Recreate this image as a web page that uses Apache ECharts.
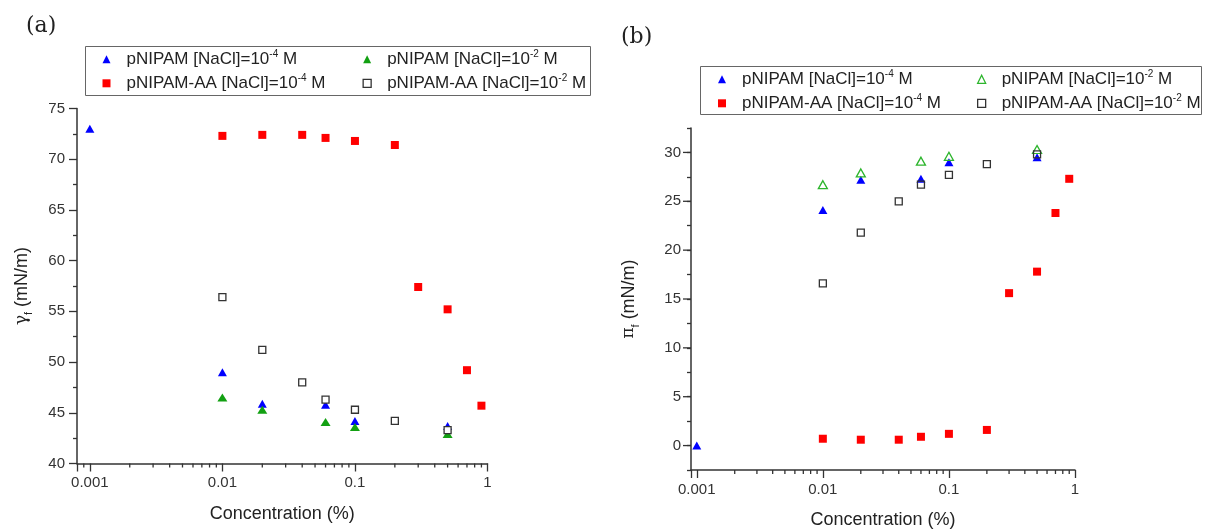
<!DOCTYPE html>
<html>
<head>
<meta charset="utf-8">
<script src="https://cdn.jsdelivr.net/npm/echarts@6/dist/echarts.min.js"></script>
<style>
html,body{margin:0;padding:0;background:#fff;}
#chart{width:1207px;height:529px;}
</style>
</head>
<body>
<div id="chart"></div>
<script>
// ---------- data ----------
const seriesNames = ['pNIPAM 1e-4', 'pNIPAM 1e-2', 'pNIPAM-AA 1e-4', 'pNIPAM-AA 1e-2'];
const legendLabels = [
  'pNIPAM [NaCl]=10{sup|-4} M',
  'pNIPAM [NaCl]=10{sup|-2} M',
  'pNIPAM-AA [NaCl]=10{sup|-4} M',
  'pNIPAM-AA [NaCl]=10{sup|-2} M'
];

// panel (a): gamma_f (mN/m)
const concA_blue  = [0.001, 0.01, 0.02, 0.06, 0.1, 0.5];
const gammaA_blue = [73.0, 49.0, 45.9, 45.8, 44.2, 43.7];
const concA_green  = [0.01, 0.02, 0.06, 0.1, 0.5];
const gammaA_green = [46.5, 45.3, 44.1, 43.6, 42.9];
const concA_red  = [0.01, 0.02, 0.04, 0.06, 0.1, 0.2, 0.3, 0.5, 0.7, 0.9];
const gammaA_red = [72.3, 72.4, 72.4, 72.1, 71.8, 71.4, 57.4, 55.2, 49.2, 45.7];
const concA_black  = [0.01, 0.02, 0.04, 0.06, 0.1, 0.2, 0.5];
const gammaA_black = [56.4, 51.2, 48.0, 46.3, 45.3, 44.2, 43.3];

// panel (b): pi_f (mN/m)
const concB_blue = [0.001, 0.01, 0.02, 0.06, 0.1, 0.5];
const piB_blue   = [0.0, 24.1, 27.2, 27.3, 29.0, 29.5];
const concB_green = [0.01, 0.02, 0.06, 0.1, 0.5];
const piB_green   = [26.7, 27.9, 29.1, 29.6, 30.3];
const concB_red = [0.01, 0.02, 0.04, 0.06, 0.1, 0.2, 0.3, 0.5, 0.7, 0.9];
const piB_red   = [0.7, 0.6, 0.6, 0.9, 1.2, 1.6, 15.6, 17.8, 23.8, 27.3];
const concB_black = [0.01, 0.02, 0.04, 0.06, 0.1, 0.2, 0.5];
const piB_black   = [16.6, 21.8, 25.0, 26.7, 27.7, 28.8, 29.8];

// axis ticks
const xTickValues = [0.001, 0.01, 0.1, 1];
const xTickLabels = ['0.001', '0.01', '0.1', '1'];
const xMinorTicksA = [0.0009, 0.002, 0.003, 0.004, 0.005, 0.006, 0.007, 0.008, 0.009,
  0.02, 0.03, 0.04, 0.05, 0.06, 0.07, 0.08, 0.09, 0.2, 0.3, 0.4, 0.5, 0.6, 0.7, 0.8, 0.9];
const xMinorTicksB = [0.002, 0.003, 0.004, 0.005, 0.006, 0.007, 0.008, 0.009,
  0.02, 0.03, 0.04, 0.05, 0.06, 0.07, 0.08, 0.09, 0.2, 0.3, 0.4, 0.5, 0.6, 0.7, 0.8, 0.9];
const yMajorTicksB = [0, 5, 10, 15, 20, 25, 30];

// ---------- chart ----------
const FONT = 'Liberation Sans, Arial, sans-serif';
const AX = '#333';
const xMinA = 0.0008, xMinB = 0.0009, yMinA = 40, yMinB = -2.5;

function zip(xs, ys) { return xs.map((x, i) => [x, ys[i]]); }
function fmtX(v) {
  for (let i = 0; i < xTickValues.length; i++) {
    if (Math.abs(Math.log10(v) - Math.log10(xTickValues[i])) < 1e-6) return xTickLabels[i];
  }
  return '';
}
function tickSeries(gi, dir, values, fixed, len) {
  return {
    type: 'custom', xAxisIndex: gi, yAxisIndex: gi, silent: true, clip: false, z: 1,
    data: values.map(v => dir === 'x' ? [v, fixed] : [fixed, v]),
    renderItem: function (params, api) {
      const p = api.coord([api.value(0), api.value(1)]);
      const shape = dir === 'x'
        ? { x1: p[0], y1: p[1], x2: p[0], y2: p[1] + len }
        : { x1: p[0] - len, y1: p[1], x2: p[0], y2: p[1] };
      return { type: 'line', shape: shape, style: { stroke: AX, lineWidth: 1.3 } };
    }
  };
}

const styles = [
  { symbol: 'triangle', size: [9, 8], color: '#0000ff' },
  { symbol: 'triangle', size: [10, 8], color: '#12a012' },
  { symbol: 'rect', size: [8, 8], color: '#ff0000' },
  { symbol: 'rect', size: [7, 7], color: '#ffffff', border: '#333333' }
];
const stylesB = [
  { symbol: 'triangle', size: [9, 8], color: '#0000ff' },
  { symbol: 'triangle', size: [9, 8], color: 'rgba(255,255,255,0)', border: '#2db52d' },
  { symbol: 'rect', size: [8, 8], color: '#ff0000' },
  { symbol: 'rect', size: [7, 7], color: 'rgba(255,255,255,0)', border: '#333333' }
];

function scatter(gi, k, data, st) {
  return {
    type: 'scatter', name: seriesNames[k], xAxisIndex: gi, yAxisIndex: gi,
    symbol: st.symbol, symbolSize: st.size, data: data, z: 3,
    itemStyle: { color: st.color, borderColor: st.border || st.color, borderWidth: st.border ? 1.3 : 0, opacity: 1 }
  };
}

const dataA = [zip(concA_blue, gammaA_blue), zip(concA_green, gammaA_green), zip(concA_red, gammaA_red), zip(concA_black, gammaA_black)];
const dataB = [zip(concB_blue, piB_blue), zip(concB_green, piB_green), zip(concB_red, piB_red), zip(concB_black, piB_black)];

function legendData(idx, sts) {
  return idx.map(k => ({
    name: seriesNames[k],
    icon: sts[k].symbol,
    itemStyle: { color: sts[k].color, borderColor: sts[k].border || sts[k].color, borderWidth: sts[k].border ? 1.3 : 0 }
  }));
}
const legendText = {
  fontFamily: FONT, fontSize: 17, color: '#222', lineHeight: 20, padding: [0, 0, 0, 11],
  rich: { sup: { fontFamily: FONT, fontSize: 10, lineHeight: 13, verticalAlign: 'top', color: '#222' } }
};
function mkLegend(left, top, idx, sts) {
  return {
    orient: 'vertical', left: left, top: top, padding: 0, itemGap: 4,
    itemWidth: 8, itemHeight: 8, selectedMode: false,
    data: legendData(idx, sts),
    formatter: name => legendLabels[seriesNames.indexOf(name)],
    textStyle: legendText
  };
}

function xAxis(gi, min, gap) {
  return {
    type: 'log', logBase: 10, gridIndex: gi, min: min, max: 1,
    name: 'Concentration (%)', nameLocation: 'middle', nameGap: gap,
    nameTextStyle: { fontFamily: FONT, fontSize: 18, color: '#222' },
    axisLine: { show: true, onZero: false, lineStyle: { color: AX, width: 1.5 } },
    axisTick: { show: true, length: 8, lineStyle: { color: AX, width: 1.3 } },
    axisLabel: { fontFamily: FONT, fontSize: 15, color: '#333', margin: 12, formatter: fmtX },
    splitLine: { show: false }, minorTick: { show: false }
  };
}
const yNameRich = {
  g: { fontFamily: 'DejaVu Serif, serif', fontSize: 17, color: '#222', lineHeight: 24 },
  sub: { fontFamily: FONT, fontSize: 11, color: '#222', lineHeight: 15, verticalAlign: 'bottom' },
  t: { fontFamily: FONT, fontSize: 18, color: '#222', lineHeight: 24 }
};

const option = {
  animation: false,
  backgroundColor: '#ffffff',
  grid: [
    { left: 77, top: 108.5, width: 410.5, height: 355, containLabel: false, outerBoundsMode: 'none' },
    { left: 691, top: 128, width: 384, height: 342, containLabel: false, outerBoundsMode: 'none' }
  ],
  xAxis: [xAxis(0, xMinA, 42), xAxis(1, xMinB, 41)],
  yAxis: [
    {
      type: 'value', gridIndex: 0, min: 40, max: 75, interval: 5,
      name: '{g|γ}{sub|f}{t| (mN/m)}', nameLocation: 'middle', nameGap: 43, nameRotate: 90,
      nameTextStyle: { rich: yNameRich },
      axisLine: { show: true, onZero: false, lineStyle: { color: AX, width: 1.5 } },
      axisTick: { show: true, length: 8, lineStyle: { color: AX, width: 1.3 } },
      minorTick: { show: true, splitNumber: 2, length: 4, lineStyle: { color: AX, width: 1.3 } },
      axisLabel: { fontFamily: FONT, fontSize: 15, color: '#333', margin: 12 },
      splitLine: { show: false }
    },
    {
      type: 'value', gridIndex: 1, min: -2.5, max: 32.5, interval: 2.5,
      name: '{g|π}{sub|f}{t| (mN/m)}', nameLocation: 'middle', nameGap: 50, nameRotate: 90,
      nameTextStyle: { rich: yNameRich },
      axisLine: { show: true, onZero: false, lineStyle: { color: AX, width: 1.5 } },
      axisTick: { show: true, length: 4, lineStyle: { color: AX, width: 1.3 } },
      axisLabel: { fontFamily: FONT, fontSize: 15, color: '#333', margin: 10,
        formatter: v => (Math.abs(v % 5) < 1e-9 ? String(v) : '') },
      splitLine: { show: false }
    }
  ],
  legend: [
    mkLegend(102.5, 49.3, [0, 2], styles),
    mkLegend(362.5, 49.3, [1, 3], styles),
    mkLegend(718, 69.3, [0, 2], stylesB),
    mkLegend(977, 69.3, [1, 3], stylesB)
  ],
  graphic: [
    { type: 'rect', shape: { x: 85.5, y: 46.5, width: 505, height: 49 }, style: { fill: 'none', stroke: '#666', lineWidth: 1 }, z: 0 },
    { type: 'rect', shape: { x: 700.5, y: 66.5, width: 501, height: 48 }, style: { fill: 'none', stroke: '#666', lineWidth: 1 }, z: 0 },
    { type: 'text', left: 26, top: 15, style: { text: '(a)', font: '22px "DejaVu Serif", serif', fill: '#222' } },
    { type: 'text', left: 621, top: 26, style: { text: '(b)', font: '22px "DejaVu Serif", serif', fill: '#222' } }
  ],
  series: [
    tickSeries(0, 'x', xMinorTicksA, yMinA, 4),
    tickSeries(1, 'x', xMinorTicksB, yMinB, 4),
    tickSeries(1, 'y', yMajorTicksB, xMinB, 8)
  ].concat(
    dataA.map((d, k) => scatter(0, k, d, styles[k])),
    dataB.map((d, k) => scatter(1, k, d, stylesB[k]))
  )
};

const chart = echarts.init(document.getElementById('chart'), null, { renderer: 'canvas' });
chart.setOption(option);
</script>
</body>
</html>
